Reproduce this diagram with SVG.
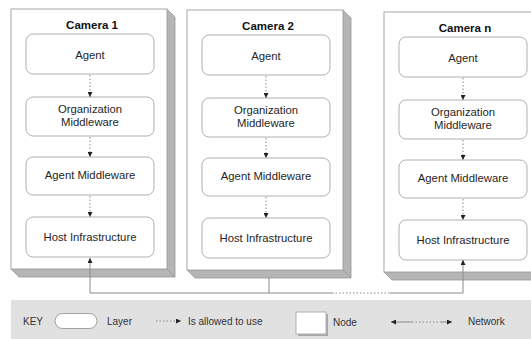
<svg xmlns="http://www.w3.org/2000/svg" width="531" height="339" viewBox="0 0 531 339">
<style>
.front{fill:#fff;stroke:#a8a8a8;stroke-width:1}
.side{fill:#b5b5b5;stroke:#989898;stroke-width:0.8}
.layer{fill:#fff;stroke:#b0b0b0;stroke-width:1}
.t{font-family:"Liberation Sans",Arial,sans-serif;font-size:11.3px;fill:#262626;text-anchor:middle}
.title{font-family:"Liberation Sans",Arial,sans-serif;font-size:11.5px;font-weight:bold;fill:#111;text-anchor:middle}
.k{font-family:"Liberation Sans",Arial,sans-serif;font-size:10px;fill:#333}
.dot{stroke:#8a8a8a;stroke-width:1;stroke-dasharray:1.5 2;fill:none}
.sol{stroke:#8a8a8a;stroke-width:1;fill:none}
</style>
<defs>
<marker id="ah" viewBox="0 0 6 6" refX="6" refY="3" markerWidth="5" markerHeight="5" markerUnits="userSpaceOnUse" orient="auto">
<path d="M0,0 L6,3 L0,6 Z" fill="#222"/>
</marker>
<marker id="as" viewBox="0 0 6 6" refX="0" refY="3" markerWidth="5" markerHeight="5" markerUnits="userSpaceOnUse" orient="auto">
<path d="M6,0 L0,3 L6,6 Z" fill="#222"/>
</marker>
<g id="camShell">
<polygon class="side" points="156,0 164,8 164,268 156,260"/>
<polygon class="side" points="0,260 8,268 164,268 156,260"/>
<rect class="front" x="0" y="0" width="156" height="260"/>
</g>
</defs>

<g id="camera1" transform="translate(11,9)">
<use href="#camShell"/>
<text class="title" x="81" y="20">Camera 1</text>
<g id="c1-agent"><rect class="layer" x="15" y="25" width="128" height="40" rx="7"/><text class="t" x="79" y="50">Agent</text></g>
<g id="c1-org"><rect class="layer" x="15" y="88" width="128" height="39" rx="7"/><text class="t" x="79" y="104">Organization</text><text class="t" x="79" y="117">Middleware</text></g>
<g id="c1-am"><rect class="layer" x="15" y="148" width="128" height="38" rx="7"/><text class="t" x="79" y="170">Agent Middleware</text></g>
<g id="c1-hi"><rect class="layer" x="15" y="208" width="128" height="40" rx="7"/><text class="t" x="79" y="232">Host Infrastructure</text></g>
</g>

<g id="camera2" transform="translate(187,10)">
<use href="#camShell"/>
<text class="title" x="81" y="20">Camera 2</text>
<g id="c2-agent"><rect class="layer" x="15" y="25" width="128" height="40" rx="7"/><text class="t" x="79" y="50">Agent</text></g>
<g id="c2-org"><rect class="layer" x="15" y="88" width="128" height="39" rx="7"/><text class="t" x="79" y="104">Organization</text><text class="t" x="79" y="117">Middleware</text></g>
<g id="c2-am"><rect class="layer" x="15" y="148" width="128" height="38" rx="7"/><text class="t" x="79" y="170">Agent Middleware</text></g>
<g id="c2-hi"><rect class="layer" x="15" y="208" width="128" height="40" rx="7"/><text class="t" x="79" y="232">Host Infrastructure</text></g>
</g>

<g id="cameraN" transform="translate(384,12)">
<use href="#camShell"/>
<text class="title" x="81" y="20">Camera n</text>
<g id="cn-agent"><rect class="layer" x="15" y="25" width="128" height="40" rx="7"/><text class="t" x="79" y="50">Agent</text></g>
<g id="cn-org"><rect class="layer" x="15" y="88" width="128" height="39" rx="7"/><text class="t" x="79" y="104">Organization</text><text class="t" x="79" y="117">Middleware</text></g>
<g id="cn-am"><rect class="layer" x="15" y="148" width="128" height="38" rx="7"/><text class="t" x="79" y="170">Agent Middleware</text></g>
<g id="cn-hi"><rect class="layer" x="15" y="208" width="128" height="40" rx="7"/><text class="t" x="79" y="232">Host Infrastructure</text></g>
</g>

<g id="connectors">
<line class="dot" x1="90" y1="75" x2="90" y2="97" marker-end="url(#ah)"/>
<line class="dot" x1="90" y1="137" x2="90" y2="157" marker-end="url(#ah)"/>
<line class="dot" x1="90" y1="196" x2="90" y2="217" marker-end="url(#ah)"/>
<line class="dot" x1="266" y1="76" x2="266" y2="98" marker-end="url(#ah)"/>
<line class="dot" x1="266" y1="138" x2="266" y2="158" marker-end="url(#ah)"/>
<line class="dot" x1="266" y1="197" x2="266" y2="218" marker-end="url(#ah)"/>
<line class="dot" x1="463" y1="78" x2="463" y2="100" marker-end="url(#ah)"/>
<line class="dot" x1="463" y1="140" x2="463" y2="160" marker-end="url(#ah)"/>
<line class="dot" x1="463" y1="199" x2="463" y2="220" marker-end="url(#ah)"/>
<line class="sol" x1="90" y1="293" x2="90" y2="258" marker-end="url(#ah)"/>
<line class="sol" x1="90" y1="293" x2="332" y2="293"/>
<line class="sol" x1="269" y1="278" x2="269" y2="293"/>
<line class="dot" x1="332" y1="293" x2="390" y2="293"/>
<line class="sol" x1="390" y1="293" x2="463" y2="293"/>
<line class="sol" x1="463" y1="293" x2="463" y2="260" marker-end="url(#ah)"/>
</g>

<g id="key">
<rect x="11" y="300" width="520" height="39" fill="#e1e1e1"/>
<text class="k" x="23" y="325">KEY</text>
<rect x="55" y="313.5" width="42" height="15" rx="7.5" fill="#fff" stroke="#a0a0a0"/>
<text class="k" x="107" y="325">Layer</text>
<line class="dot" x1="156" y1="321" x2="181" y2="321" marker-end="url(#ah)"/>
<text class="k" x="188" y="325">Is allowed to use</text>
<rect x="298" y="314" width="30" height="22" fill="#a8a8a8"/>
<rect x="296" y="312" width="30" height="22" fill="#fff" stroke="#b0b0b0"/>
<text class="k" x="333" y="326">Node</text>
<line class="sol" x1="391" y1="322" x2="412" y2="322" marker-start="url(#as)"/>
<line class="dot" x1="412" y1="322" x2="440" y2="322"/>
<line class="sol" x1="440" y1="322" x2="452" y2="322" marker-end="url(#ah)"/>
<text class="k" x="468" y="325">Network</text>
</g>
</svg>
